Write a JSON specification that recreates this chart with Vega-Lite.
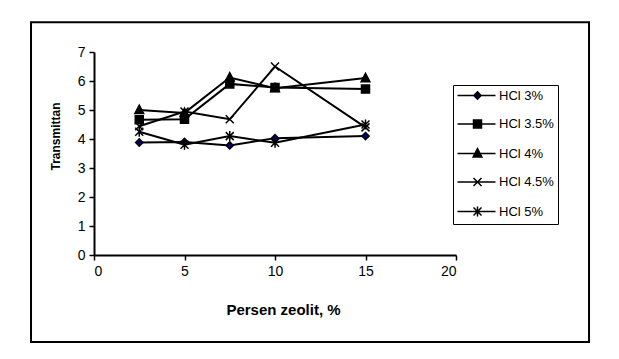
{
  "$schema": "https://vega.github.io/schema/vega-lite/v6.json",
  "width": 362,
  "height": 203,
  "autosize": {"type": "none"},
  "padding": {"left": 94, "top": 52, "right": 163, "bottom": 104},
  "background": "white",
  "config": {
    "font": "Liberation Sans",
    "view": {"stroke": null},
    "axis": {
      "grid": false,
      "domainColor": "black",
      "domainWidth": 2,
      "tickColor": "black",
      "tickWidth": 1.5,
      "tickSize": 5,
      "labelColor": "black",
      "labelFontSize": 14,
      "labelFont": "Liberation Sans",
      "titleColor": "black",
      "titleFont": "Liberation Sans",
      "titleFontWeight": "bold"
    },
    "legend": {
      "labelFont": "Liberation Sans",
      "labelColor": "black",
      "labelFontSize": 13
    }
  },
  "resolve": {"scale": {"shape": "independent", "fill": "independent", "stroke": "independent"}},
  "datasets": {
    "series": [
      {"serie": "HCl 3%", "zeolit": 2.5, "transmittan": 3.88},
      {"serie": "HCl 3%", "zeolit": 5, "transmittan": 3.9},
      {"serie": "HCl 3%", "zeolit": 7.5, "transmittan": 3.78},
      {"serie": "HCl 3%", "zeolit": 10, "transmittan": 4.03},
      {"serie": "HCl 3%", "zeolit": 15, "transmittan": 4.1},
      {"serie": "HCl 3.5%", "zeolit": 2.5, "transmittan": 4.66},
      {"serie": "HCl 3.5%", "zeolit": 5, "transmittan": 4.68},
      {"serie": "HCl 3.5%", "zeolit": 7.5, "transmittan": 5.9},
      {"serie": "HCl 3.5%", "zeolit": 10, "transmittan": 5.78},
      {"serie": "HCl 3.5%", "zeolit": 15, "transmittan": 5.72},
      {"serie": "HCl 4%", "zeolit": 2.5, "transmittan": 5.0},
      {"serie": "HCl 4%", "zeolit": 5, "transmittan": 4.9},
      {"serie": "HCl 4%", "zeolit": 7.5, "transmittan": 6.12},
      {"serie": "HCl 4%", "zeolit": 10, "transmittan": 5.75},
      {"serie": "HCl 4%", "zeolit": 15, "transmittan": 6.1},
      {"serie": "HCl 4.5%", "zeolit": 2.5, "transmittan": 4.44},
      {"serie": "HCl 4.5%", "zeolit": 5, "transmittan": 4.95},
      {"serie": "HCl 4.5%", "zeolit": 7.5, "transmittan": 4.68},
      {"serie": "HCl 4.5%", "zeolit": 10, "transmittan": 6.5},
      {"serie": "HCl 4.5%", "zeolit": 15, "transmittan": 4.4},
      {"serie": "HCl 5%", "zeolit": 2.5, "transmittan": 4.25},
      {"serie": "HCl 5%", "zeolit": 5, "transmittan": 3.8},
      {"serie": "HCl 5%", "zeolit": 7.5, "transmittan": 4.1},
      {"serie": "HCl 5%", "zeolit": 10, "transmittan": 3.87},
      {"serie": "HCl 5%", "zeolit": 15, "transmittan": 4.5}
    ],
    "frame": [{"x1": -3.48, "x2": 27.35, "y1": 8.03, "y2": -3.0}]
  },
  "layer": [
    {
      "data": {"name": "frame"},
      "mark": {"type": "rect", "fill": null, "stroke": "black", "strokeWidth": 2},
      "encoding": {
        "x": {
          "field": "x1", "type": "quantitative",
          "scale": {"domain": [0, 20], "nice": false},
          "axis": {"values": [0, 5, 10, 15, 20], "title": "Persen zeolit, %", "titleFontSize": 15, "labelFontSize": 14, "labelPadding": 4, "titlePadding": 24, "titleX": 189}
        },
        "x2": {"field": "x2"},
        "y": {
          "field": "y1", "type": "quantitative",
          "scale": {"domain": [0, 7], "nice": false},
          "axis": {"values": [0, 1, 2, 3, 4, 5, 6, 7], "tickCount": 8, "labelOverlap": false, "title": "Transmittan", "titleFontSize": 12, "labelFontSize": 14, "labelPadding": 4, "titleX": -39, "titleY": 84, "titleBaseline": "middle"}
        },
        "y2": {"field": "y2"}
      }
    },
    {
      "data": {"name": "series"},
      "mark": {"type": "line", "stroke": "black", "strokeWidth": 2},
      "encoding": {
        "x": {"field": "zeolit", "type": "quantitative"},
        "y": {"field": "transmittan", "type": "quantitative"},
        "detail": {"field": "serie"}
      }
    },
    {
      "data": {"name": "series"},
      "mark": {"type": "point", "filled": true, "opacity": 1, "size": 64, "stroke": "black", "strokeWidth": 1.5},
      "encoding": {
        "x": {"field": "zeolit", "type": "quantitative"},
        "y": {"field": "transmittan", "type": "quantitative"},
        "shape": {
          "field": "serie", "type": "nominal",
          "scale": {
            "domain": ["HCl 3%", "HCl 3.5%", "HCl 4%", "HCl 4.5%", "HCl 5%"],
            "range": [
              "M0,-0.9L0.9,0L0,0.9L-0.9,0Z",
              "M-1,-1H1V1H-1Z",
              "M0,-1.2L1.1,0.9H-1.1Z",
              "M-1,-1L1,1M-1,1L1,-1",
              "M-1,-1L1,1M-1,1L1,-1M0,-1.25V1.25"
            ]
          },
          "legend": null
        },
        "fill": {
          "field": "serie", "type": "nominal",
          "scale": {
            "domain": ["HCl 3%", "HCl 3.5%", "HCl 4%", "HCl 4.5%", "HCl 5%"],
            "range": ["#000080", "black", "black", "black", "black"]
          },
          "legend": null
        }
      }
    },
    {
      "data": {"name": "series"},
      "transform": [{"filter": "false"}],
      "mark": {"type": "point", "filled": true, "strokeWidth": 1.5, "size": 64},
      "encoding": {
        "x": {"field": "zeolit", "type": "quantitative"},
        "y": {"field": "transmittan", "type": "quantitative"},
        "shape": {
          "field": "serie", "type": "nominal",
          "scale": {
            "domain": ["HCl 3%", "HCl 3.5%", "HCl 4%", "HCl 4.5%", "HCl 5%"],
            "range": [
              "M-1.5,0H8M3.5,-0.9L4.4,0L3.5,0.9L2.6,0Z",
              "M-1.5,0H8M2.5,-1H4.5V1H2.5Z",
              "M-1.5,0H8M3.5,-1.2L4.6,0.9H2.4Z",
              "M-1.5,0H8M2.5,-1L4.5,1M2.5,1L4.5,-1",
              "M-1.5,0H8M2.5,-1L4.5,1M2.5,1L4.5,-1M3.5,-1.25V1.25"
            ]
          },
          "legend": {
            "title": null,
            "orient": "none",
            "legendX": 359,
            "legendY": 33,
            "strokeColor": "black",
            "fillColor": "white",
            "padding": 4,
            "labelOffset": 29,
            "rowPadding": 13.5,
            "symbolSize": 64,
            "symbolStrokeWidth": 1.5,
            "symbolOpacity": 1
          }
        },
        "fill": {
          "field": "serie", "type": "nominal",
          "scale": {
            "domain": ["HCl 3%", "HCl 3.5%", "HCl 4%", "HCl 4.5%", "HCl 5%"],
            "range": ["#000080", "black", "black", "black", "black"]
          },
          "legend": {
            "title": null,
            "orient": "none",
            "legendX": 359,
            "legendY": 33,
            "strokeColor": "black",
            "fillColor": "white",
            "padding": 4,
            "labelOffset": 29,
            "rowPadding": 13.5,
            "symbolSize": 64
          }
        },
        "stroke": {
          "field": "serie", "type": "nominal",
          "scale": {
            "domain": ["HCl 3%", "HCl 3.5%", "HCl 4%", "HCl 4.5%", "HCl 5%"],
            "range": ["black", "black", "black", "black", "black"]
          },
          "legend": {
            "title": null,
            "orient": "none",
            "legendX": 359,
            "legendY": 33,
            "strokeColor": "black",
            "fillColor": "white",
            "padding": 4,
            "labelOffset": 29,
            "rowPadding": 13.5,
            "symbolSize": 64
          }
        }
      }
    }
  ]
}
